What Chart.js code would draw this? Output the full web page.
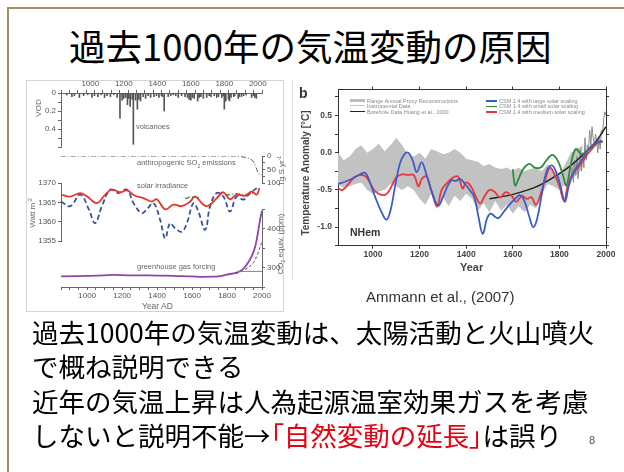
<!DOCTYPE html>
<html>
<head>
<meta charset="utf-8">
<script src="https://cdn.jsdelivr.net/npm/chart.js@4.4.1/dist/chart.umd.min.js"></script>
<style>
body{margin:0;width:624px;height:472px;background:#fff;overflow:hidden;position:relative;font-family:"Liberation Sans",Arial,sans-serif}
canvas{position:absolute;left:0;top:0}
.t{position:absolute;white-space:nowrap}
.rot{position:absolute;white-space:nowrap;transform:translate(-50%,-50%) rotate(-90deg)}
.jp{font-family:"Noto Sans CJK JP",sans-serif;color:#000}
.lab{font-size:7.5px;color:#666}
.lg{position:absolute;white-space:nowrap;font-size:5.5px;color:#888;line-height:6px}
.sw{position:absolute}
.red{color:#e60012}
.br{font-feature-settings:"palt"}
</style>
</head>
<body>
<div style="position:absolute;left:7px;top:7px;width:617px;height:2px;background:#9d9060"></div>
<div style="position:absolute;left:7px;top:7px;width:2px;height:465px;background:#9d9060"></div>

<div class="t jp" style="left:69px;top:28px;font-size:36.5px;line-height:36px">過去1000年の気温変動の原因</div>

<div style="position:absolute;left:26px;top:80px;width:256px;height:230px;border:1px solid #d4d4d4"></div>
<div style="position:absolute;left:292px;top:80px;width:1px;height:200px;background:#e2e2e2"></div>

<canvas id="vod" width="624" height="472"></canvas>
<canvas id="so2" width="624" height="472"></canvas>
<canvas id="solar" width="624" height="472"></canvas>
<canvas id="ghg" width="624" height="472"></canvas>
<canvas id="temp" width="624" height="472"></canvas>

<div class="t lab" style="left:136px;top:122px">volcanoes</div>
<div class="t lab" style="left:137px;top:158px">anthropogenic SO<sub style="font-size:5px">2</sub> emissions</div>
<div class="t lab" style="left:137px;top:181px">solar irradiance</div>
<div class="t lab" style="left:137px;top:262px">greenhouse gas forcing</div>
<div class="t lab" style="left:142px;top:301px;font-size:8.5px">Year AD</div>
<div class="rot lab" style="left:38px;top:108px;font-size:8px">VOD</div>
<div class="rot lab" style="left:32px;top:213px;font-size:8px">Watt m<sup style="font-size:5px">-2</sup></div>
<div class="rot lab" style="left:281px;top:171px;font-size:8px">Tg S yr<sup style="font-size:5px">-1</sup></div>
<div class="rot lab" style="left:281px;top:244px;font-size:8px">CO<sub style="font-size:5px">2</sub> equiv. (ppm)</div>

<div class="rot" style="left:305px;top:173px;font-size:10px;font-weight:bold;color:#444">Temperature Anomaly [°C]</div>
<div class="t" style="left:299px;top:85px;font-size:14px;font-weight:bold;color:#333">b</div>
<div class="t" style="left:350px;top:226px;font-size:10.5px;font-weight:bold;color:#333">NHem</div>
<div class="t" style="left:460px;top:261px;font-size:11px;font-weight:bold;color:#444">Year</div>

<div class="sw" style="left:350px;top:99px;width:15px;height:3px;background:#bdbdbd"></div>
<div class="lg" style="left:367px;top:97.5px">Range Annual Proxy Reconstructions</div>
<div class="sw" style="left:350px;top:105px;width:15px;height:1px;background:#c8c8c8"></div>
<div class="lg" style="left:367px;top:103px">Instrumental Data</div>
<div class="sw" style="left:350px;top:110.5px;width:15px;height:1px;background:#222"></div>
<div class="lg" style="left:367px;top:108.5px">Borehole Data Huang et al., 2000</div>
<div class="sw" style="left:486px;top:100px;width:11px;height:1.5px;background:#3c5cc8"></div>
<div class="lg" style="left:499px;top:97.5px">CSM 1.4 with large solar scaling</div>
<div class="sw" style="left:486px;top:105.5px;width:11px;height:1.5px;background:#2e8b3e"></div>
<div class="lg" style="left:499px;top:103px">CSM 1.4 with small solar scaling</div>
<div class="sw" style="left:486px;top:111px;width:11px;height:1.5px;background:#e8383d"></div>
<div class="lg" style="left:499px;top:108.5px">CSM 1.4 with medium solar scaling</div>

<div class="t" style="left:366px;top:288px;font-size:15px;color:#333">Ammann et al., (2007)</div>

<div class="t jp" style="left:32px;top:315px;font-size:26.5px;line-height:34.3px">過去1000年の気温変動は、太陽活動と火山噴火<br>で概ね説明できる<br>近年の気温上昇は人為起源温室効果ガスを考慮<br>しないと説明不能→<span class="red"><span class="br">「</span>自然変動の延長<span class="br">」</span></span>は誤り</div>
<div class="t" style="left:589px;top:434px;font-size:11px;color:#555">8</div>

<script>
// left figure: volcanic aerosol (VOD)
var volcanoYears = [860,890,905,935,960,985,1010,1025,1045,1065,1085,1100,1120,1140,1160,1177,1190,1200,1212,1222,1230,1238,1250,1257,1270,1281,1290,1300,1315,1330,1345,1360,1380,1395,1410,1425,1430,1441,1465,1480,1495,1510,1525,1545,1565,1580,1590,1600,1610,1620,1641,1650,1660,1675,1695,1710,1720,1740,1755,1765,1785,1794,1800,1809,1825,1831,1840,1856,1862,1883,1890,1903,1915,1930,1963,1975,1982,1991];
var volcanoVOD   = [0.02,0.04,0.03,0.05,0.03,0.02,0.05,0.03,0.04,0.02,0.05,0.03,0.04,0.02,0.05,0.28,0.08,0.06,0.05,0.13,0.06,0.15,0.07,0.57,0.08,0.18,0.07,0.09,0.04,0.06,0.03,0.05,0.04,0.03,0.05,0.03,0.04,0.2,0.04,0.03,0.02,0.03,0.05,0.03,0.04,0.05,0.07,0.08,0.05,0.06,0.09,0.05,0.04,0.06,0.05,0.03,0.04,0.03,0.05,0.04,0.05,0.03,0.18,0.09,0.07,0.09,0.05,0.04,0.03,0.06,0.04,0.04,0.03,0.02,0.05,0.03,0.05,0.06];

// anthropogenic SO2 emissions (Tg S/yr)
var so2Years = [850,1850,1900,1930,1950,1970,1980,2000];
var so2Values = [0,0,5,10,20,50,65,70];

// solar irradiance (W/m2)
var solarMedYears = [850,903,960,1000,1055,1103,1141,1189,1227,1274,1322,1370,1398,1446,1493,1541,1589,1617,1665,1693,1741,1779,1817,1855,1903,1941,1970,1985];
var solarMed = [1367.0,1366.5,1367.4,1366.5,1364.8,1367.0,1368.3,1367.6,1368.1,1366.7,1366.1,1365.2,1365.8,1363.2,1364.4,1364.0,1365.2,1366.5,1364.4,1364.1,1366.1,1367.6,1365.8,1367.0,1366.7,1367.8,1367.0,1368.7];
var solarLargeYears = [850,903,960,1010,1045,1084,1132,1179,1227,1265,1312,1341,1379,1417,1446,1474,1503,1541,1570,1608,1636,1675,1703,1741,1779,1817,1855,1894,1932,1985];
var solarLarge = [1365.2,1364.0,1367.0,1363.1,1359.6,1364.0,1368.3,1367.4,1368.3,1364.8,1362.2,1363.2,1364.8,1360.5,1355.7,1359.6,1358.3,1357.4,1359.6,1364.8,1362.6,1357.9,1364.0,1367.4,1366.5,1362.6,1366.5,1365.7,1367.4,1369.1];
var solarSmallYears = [1560,1600,1640,1700,1790,1850,1900,1960];
var solarSmall = [1366.0,1366.4,1366.2,null,1366.8,1367.2,1367.0,1367.4];

// greenhouse gases (CO2 equivalent ppm)
var ghgYears = [850,950,1050,1150,1250,1350,1450,1550,1650,1750,1800,1850,1880,1900,1920,1940,1960,1970,1980,1990,2000];
var ghgValues = [277,278,279,281,280,280,279,278,276,277,282,286,292,300,312,328,352,372,398,425,445];
var co2Years = [1850,1900,1950,1975,2000];
var co2Values = [284,294,312,335,368];
var ghgFixedYears = [1860,2000];
var ghgFixed = [290,290];

// right figure: NH temperature anomaly (deg C)
var bandYears = [850,875,900,925,950,975,1000,1025,1050,1075,1100,1125,1150,1175,1200,1225,1250,1275,1300,1325,1350,1375,1400,1425,1450,1475,1500,1525,1550,1575,1600,1625,1650,1675,1700,1725,1750,1775,1800,1825,1850,1875,1900];
var bandUpper = [0.0,-0.1,-0.05,0.05,0.1,0.0,0.05,0.12,0.02,0.1,0.2,0.1,-0.02,-0.05,0.0,-0.08,0.05,0.02,-0.02,0.0,0.05,0.0,-0.08,-0.1,-0.12,-0.18,-0.15,-0.2,-0.22,-0.2,-0.25,-0.2,-0.25,-0.22,-0.2,-0.25,-0.15,-0.25,-0.3,-0.15,0.0,0.05,0.1];
var bandLower = [-0.42,-0.48,-0.45,-0.42,-0.4,-0.5,-0.55,-0.52,-0.5,-0.42,-0.45,-0.5,-0.45,-0.5,-0.62,-0.7,-0.55,-0.76,-0.6,-0.72,-0.58,-0.65,-0.55,-0.62,-0.78,-0.68,-0.8,-0.65,-0.78,-0.7,-0.82,-0.72,-0.8,-0.7,-0.75,-0.55,-0.42,-0.45,-0.5,-0.42,-0.35,-0.3,-0.2];
var instYears = [1850,1855,1860,1865,1870,1875,1880,1885,1890,1895,1900,1905,1910,1915,1920,1925,1930,1935,1940,1945,1950,1955,1960,1965,1970,1975,1980,1985,1990,1995,2000];
var instValues = [-0.35,-0.2,-0.4,-0.1,-0.3,-0.05,-0.35,-0.15,0.05,-0.25,0.0,-0.2,0.2,-0.1,0.1,0.05,0.3,0.1,0.35,0.2,0.1,0.25,0.15,0.0,0.2,0.05,0.3,0.25,0.45,0.55,0.5];
var boreYears = [1500,1600,1700,1800,1850,1900,1950,2000];
var boreValues = [-0.62,-0.56,-0.46,-0.28,-0.17,-0.03,0.12,0.35];
var largeYears = [850,880,910,940,966,985,1010,1040,1058,1075,1095,1115,1135,1152,1170,1188,1209,1230,1255,1280,1300,1320,1338,1355,1374,1395,1415,1435,1452,1471,1490,1505,1520,1538,1560,1585,1610,1631,1650,1670,1688,1705,1725,1745,1767,1785,1805,1824,1840,1860,1880,1900,1920,1940,1960,1985];
var largeValues = [-0.42,-0.39,-0.35,-0.3,-0.27,-0.38,-0.6,-0.82,-0.9,-0.78,-0.45,-0.15,-0.02,0.0,-0.1,-0.26,-0.13,-0.3,-0.55,-0.71,-0.6,-0.45,-0.37,-0.38,-0.35,-0.42,-0.5,-0.6,-0.85,-1.09,-0.88,-0.82,-0.85,-0.88,-0.8,-0.7,-0.62,-0.57,-0.65,-0.85,-1.0,-0.88,-0.55,-0.25,-0.17,-0.25,-0.45,-0.66,-0.45,-0.27,-0.17,-0.08,0.02,0.1,0.14,0.16];
var mediumYears = [850,870,895,920,945,970,990,1010,1040,1060,1080,1100,1125,1150,1175,1195,1210,1230,1250,1275,1295,1320,1345,1365,1385,1400,1420,1440,1460,1480,1500,1520,1545,1570,1595,1615,1640,1660,1680,1700,1720,1740,1760,1780,1800,1820,1835,1855,1880,1900,1920,1940,1960,1985];
var mediumValues = [-0.48,-0.5,-0.42,-0.33,-0.3,-0.32,-0.42,-0.52,-0.57,-0.55,-0.45,-0.33,-0.29,-0.3,-0.3,-0.45,-0.35,-0.32,-0.5,-0.72,-0.5,-0.4,-0.33,-0.32,-0.48,-0.4,-0.45,-0.58,-0.68,-0.58,-0.5,-0.52,-0.6,-0.53,-0.58,-0.66,-0.58,-0.62,-0.6,-0.7,-0.55,-0.35,-0.2,-0.3,-0.45,-0.65,-0.45,-0.3,-0.2,-0.12,-0.02,0.05,0.13,0.15];
var smallYears = [1600,1610,1625,1645,1670,1695,1720,1745,1770,1795,1815,1830,1850,1870,1895,1920,1945,1970,1985];
var smallValues = [-0.22,-0.44,-0.35,-0.22,-0.15,-0.2,-0.2,-0.1,-0.03,-0.12,-0.3,-0.44,-0.15,0.05,-0.02,0.03,0.08,0.14,0.15];

Chart.defaults.font.family = "'Liberation Sans', Arial, sans-serif";
Chart.defaults.color = '#555';

var W = 624, H = 472;

function pts(xs, ys) {
    return xs.map(function(x, i){ return {x: x, y: ys[i]}; });
}
function fixW(w) { return function(s){ s.width = w; }; }
function fixH(h) { return function(s){ s.height = h; }; }

// area = [left, top, right, bottom] of the plot, sizes = widths of the axes around it
function panel(id, area, sizes, datasets, scales) {
    return new Chart(document.getElementById(id), {
        type: 'line',
        data: { datasets: datasets },
        options: {
            responsive: false,
            animation: false,
            events: [],
            layout: { padding: {
                left: area[0] - (sizes.l || 0),
                top: area[1] - (sizes.t || 0),
                right: W - area[2] - (sizes.r || 0),
                bottom: H - area[3] - (sizes.b || 0)
            }},
            plugins: { legend: { display: false }, tooltip: { enabled: false } },
            elements: { point: { radius: 0 }, line: { borderWidth: 1.5 } },
            scales: scales
        }
    });
}

var axisGray = '#666';
function yearAxis(pos, h) {
    return {
        type: 'linear', position: pos, min: 850, max: 2000, afterFit: fixH(h),
        ticks: { stepSize: 50, autoSkip: false, maxRotation: 0, padding: 1, font: { size: 8 }, color: '#555',
            callback: function(v){ return (v % 200 === 0 && v >= 1000) ? v : ''; } },
        grid: { drawOnChartArea: false, tickLength: 3, color: axisGray },
        border: { color: axisGray }
    };
}
var hiddenYear = { type: 'linear', min: 850, max: 2000, display: false };

function valueAxis(pos, w, min, max, step, labelFn, reverse) {
    return {
        position: pos, min: min, max: max, reverse: !!reverse, afterFit: fixW(w),
        ticks: { stepSize: step, autoSkip: false, padding: 2, font: { size: 8 }, color: '#555', callback: labelFn },
        grid: { drawOnChartArea: false, tickLength: 3, color: axisGray },
        border: { color: axisGray }
    };
}

// VOD panel
panel('vod', [61, 93, 262, 147], { l: 24, t: 12 }, [{
    type: 'bar', data: pts(volcanoYears, volcanoVOD), backgroundColor: '#555', barThickness: 1, grouped: false
}], {
    x: yearAxis('top', 12),
    y: valueAxis('left', 24, 0, 0.6, 0.1, function(v){
        var k = Math.round(v * 10);
        if (k === 0) return '0';
        return (k % 2 === 0 && k < 6) ? (k / 10).toFixed(1) : '';
    }, true)
});

// SO2 panel
panel('so2', [61, 156, 262, 183], { r: 18 }, [{
    data: pts(so2Years, so2Values), borderColor: '#555', borderWidth: 1, borderDash: [5, 2, 1, 2], tension: 0.3
}], {
    x: hiddenYear,
    y: valueAxis('right', 18, 0, 100, 25, function(v){ return v % 50 === 0 ? v : ''; }, true)
});

// solar irradiance panel
panel('solar', [61, 183, 262, 241], { l: 24 }, [
    { data: pts(solarMedYears, solarMed), borderColor: '#e8352b', borderWidth: 1.8, tension: 0.4 },
    { data: pts(solarLargeYears, solarLarge), borderColor: '#3a4fa0', borderWidth: 1.8, borderDash: [5, 3], tension: 0.4 },
    { data: pts(solarSmallYears, solarSmall), borderColor: '#3aa55a', borderWidth: 1.5, borderDash: [5, 2, 1, 2], tension: 0.3, spanGaps: false }
], {
    x: hiddenYear,
    y: valueAxis('left', 24, 1355, 1370, 5, function(v){ return v; })
});

// greenhouse gas panel
panel('ghg', [61, 209, 262, 287], { r: 18, b: 14 }, [
    { data: pts(ghgFixedYears, ghgFixed), borderColor: '#3ab54a', borderWidth: 1 },
    { data: pts(co2Years, co2Values), borderColor: '#555', borderWidth: 1, borderDash: [3, 2], tension: 0.4 },
    { data: pts(ghgYears, ghgValues), borderColor: '#8e44ad', borderWidth: 1.8, cubicInterpolationMode: 'monotone' }
], {
    x: yearAxis('bottom', 14),
    y: valueAxis('right', 18, 250, 450, 50, function(v){ return (v === 300 || v === 400) ? v : ''; })
});

// temperature anomaly panel
var dark = '#333';
panel('temp', [338, 89.5, 606, 245.7], { l: 30, r: 4, t: 4, b: 16 }, [
    { data: pts(largeYears, largeValues), borderColor: '#3c5cc8', borderWidth: 1.8, tension: 0.4 },
    { data: pts(mediumYears, mediumValues), borderColor: '#e8383d', borderWidth: 1.8, tension: 0.4 },
    { data: pts(smallYears, smallValues), borderColor: '#2e8b3e', borderWidth: 1.8, tension: 0.4 },
    { data: pts(boreYears, boreValues), borderColor: '#222', borderWidth: 1.5, cubicInterpolationMode: 'monotone' },
    { data: pts(instYears, instValues), borderColor: '#8a8a8a', borderWidth: 1 },
    { data: pts(bandYears, bandUpper), borderColor: 'rgba(0,0,0,0)', borderWidth: 0, backgroundColor: '#c2c2c2', fill: '+1' },
    { data: pts(bandYears, bandLower), borderColor: 'rgba(0,0,0,0)', borderWidth: 0 }
], {
    x: { type: 'linear', position: 'bottom', min: 850, max: 2000, afterFit: fixH(16),
        ticks: { stepSize: 200, includeBounds: false, autoSkip: false, maxRotation: 0, padding: 1,
            font: { size: 8.5, weight: 'bold' }, color: '#444',
            callback: function(v){ return v % 200 === 0 ? v : ''; } },
        grid: { drawOnChartArea: false, tickLength: 3, color: dark }, border: { color: dark } },
    x2: { type: 'linear', position: 'top', min: 850, max: 2000, afterFit: fixH(4),
        ticks: { display: false, stepSize: 200, includeBounds: false },
        grid: { drawOnChartArea: false, tickLength: 3, color: dark }, border: { color: dark } },
    y: { position: 'left', min: -1.25, max: 0.85, afterFit: fixW(30),
        ticks: { stepSize: 0.25, includeBounds: false, autoSkip: false, padding: 3,
            font: { size: 8.5, weight: 'bold' }, color: '#444',
            callback: function(v){ return Math.abs(v * 2 - Math.round(v * 2)) < 1e-6 ? v.toFixed(1) : ''; } },
        grid: { drawOnChartArea: false, tickLength: 3, color: dark }, border: { color: dark } },
    y2: { position: 'right', min: -1.25, max: 0.85, afterFit: fixW(4),
        ticks: { display: false, stepSize: 0.25, includeBounds: false },
        grid: { drawOnChartArea: false, tickLength: 3, color: dark }, border: { color: dark } }
});
</script>
</body>
</html>
